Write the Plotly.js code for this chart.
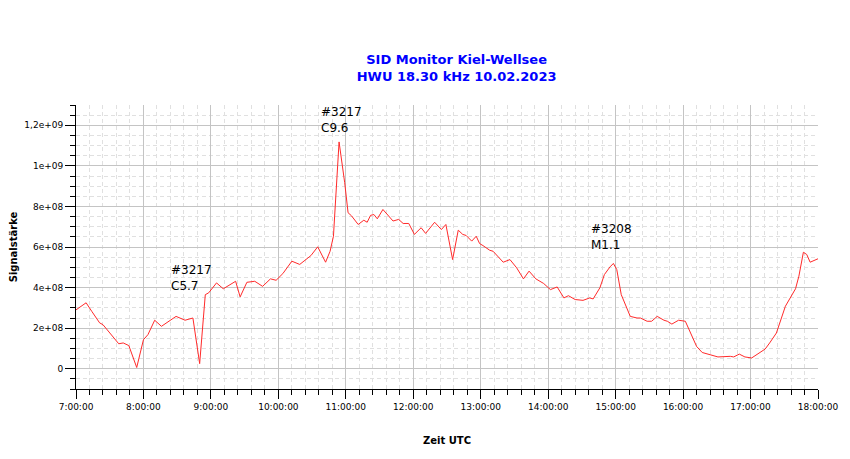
<!DOCTYPE html>
<html>
<head>
<meta charset="utf-8">
<script src="https://cdn.plot.ly/plotly-3.0.1.min.js"></script>
<style>html,body{margin:0;padding:0;background:#fff;}#chart{width:850px;height:459px;}</style>
</head>
<body>
<div id="chart"></div>
<script>
var day = "2023-02-10";
var times = ["07:00","07:09","07:14","07:21","07:24","07:38","07:42","07:47","07:54","08:00",
"08:04","08:10","08:16","08:29","08:37","08:44","08:50","08:55","08:58","09:05",
"09:11","09:22","09:26","09:32","09:39","09:46","09:53","09:58","10:04","10:12",
"10:19","10:29","10:35","10:42","10:46","10:49","10:54","10:59","11:02","11:05",
"11:11","11:16","11:19","11:22","11:25","11:28","11:33","11:42","11:47","11:51",
"11:56","12:01","12:07","12:11","12:19","12:25","12:29","12:35","12:40","12:44",
"12:47","12:52","12:56","12:59","13:02","13:08","13:11","13:20","13:26","13:32",
"13:38","13:43","13:49","13:56","14:02","14:08","14:14","14:18","14:24","14:31",
"14:37","14:40","14:46","14:50","14:55","14:58","15:01","15:05","15:13","15:19",
"15:22","15:28","15:32","15:37","15:43","15:46","15:50","15:56","16:02","16:08",
"16:12","16:17","16:24","16:31","16:42","16:45","16:50","16:55","17:01","17:07",
"17:13","17:17","17:23","17:31","17:40","17:43","17:47","17:50","17:53","18:00"];
var signal = [2.90e8,3.25e8,2.83e8,2.26e8,2.17e8,1.23e8,1.27e8,1.14e8,0.06e8,1.43e8,
1.68e8,2.39e8,2.09e8,2.58e8,2.39e8,2.50e8,0.25e8,3.65e8,3.74e8,4.23e8,
3.94e8,4.31e8,3.54e8,4.26e8,4.31e8,4.06e8,4.43e8,4.36e8,4.69e8,5.30e8,
5.14e8,5.58e8,6.01e8,5.25e8,5.79e8,6.53e8,11.18e8,9.17e8,7.69e8,7.54e8,
7.11e8,7.32e8,7.22e8,7.56e8,7.60e8,7.39e8,7.85e8,7.28e8,7.36e8,7.16e8,
7.16e8,6.62e8,6.95e8,6.67e8,7.22e8,6.86e8,7.11e8,5.38e8,6.83e8,6.62e8,
6.57e8,6.29e8,6.53e8,6.17e8,6.07e8,5.84e8,5.79e8,5.25e8,5.38e8,4.97e8,
4.43e8,4.81e8,4.43e8,4.20e8,3.90e8,4.03e8,3.49e8,3.60e8,3.41e8,3.37e8,
3.49e8,3.44e8,3.99e8,4.64e8,5.02e8,5.19e8,4.89e8,3.65e8,2.58e8,2.50e8,
2.50e8,2.34e8,2.34e8,2.58e8,2.39e8,2.34e8,2.20e8,2.39e8,2.34e8,1.60e8,
1.10e8,0.80e8,0.69e8,0.58e8,0.61e8,0.58e8,0.72e8,0.58e8,0.53e8,0.77e8,
0.97e8,1.27e8,1.76e8,3.08e8,3.94e8,4.56e8,5.74e8,5.63e8,5.25e8,5.42e8];

var yTickVals = [0, 2e8, 4e8, 6e8, 8e8, 1e9, 1.2e9];
var yTickText = ["0", "2e+08", "4e+08", "6e+08", "8e+08", "1e+09", "1,2e+09"];

var flareLabels = ["#3217<br>C5.7", "#3217<br>C9.6", "#3208<br>M1.1"];
var flareTimes = ["08:23", "10:36", "14:36"];
var flareY = [3.62e8, 11.42e8, 5.65e8];

var xs = times.map(function(t){ return day + " " + t; });

var annotations = flareLabels.map(function(txt, i){
  return {
    x: day + " " + flareTimes[i], y: flareY[i], xref: "x", yref: "y",
    text: txt, showarrow: false, xanchor: "left", yanchor: "bottom", align: "left",
    font: {family: "DejaVu Sans", size: 12, color: "#000"}
  };
});

var trace = {
  x: xs, y: signal, type: "scatter", mode: "lines",
  line: {color: "#ff2a2a", width: 1}, hoverinfo: "skip"
};

var layout = {
  width: 850, height: 459,
  margin: {l: 76, r: 32, t: 105, b: 70},
  paper_bgcolor: "#fff", plot_bgcolor: "#fff",
  showlegend: false,
  font: {family: "DejaVu Sans", size: 9, color: "#000"},
  title: {
    text: "SID Monitor Kiel-Wellsee<br>HWU 18.30 kHz 10.02.2023",
    font: {family: "DejaVu Sans", size: 13, color: "#0000ff", weight: "bold"},
    x: 0.5 + 11/850, xanchor: "center", xref: "paper",
    y: 1 - 64/459, yanchor: "top", yref: "container"
  },
  xaxis: {
    type: "date",
    range: [day + " 07:00", day + " 18:00"],
    dtick: 3600000, tick0: day + " 07:00",
    tickformat: "%-H:%M:%S",
    ticks: "outside", ticklen: 9, tickcolor: "#000", tickwidth: 1,
    showline: true, linecolor: "#000", linewidth: 1,
    showgrid: true, gridcolor: "#c4c4c4", gridwidth: 1,
    zeroline: false,
    tickfont: {family: "DejaVu Sans", size: 9, color: "#000"},
    minor: {dtick: 720000, ticks: "outside", ticklen: 5, tickcolor: "#000",
            showgrid: true, gridcolor: "#e0e0e0", griddash: "4px,3px", gridwidth: 1},
    title: {text: "Zeit UTC", font: {family: "DejaVu Sans", size: 10, color: "#000", weight: "bold"}, standoff: 26}
  },
  yaxis: {
    range: [-1e8, 1.3e9],
    tickvals: yTickVals, ticktext: yTickText,
    ticks: "outside", ticklen: 10, tickcolor: "#000", tickwidth: 1,
    showline: true, linecolor: "#000", linewidth: 1,
    showgrid: true, gridcolor: "#c4c4c4", gridwidth: 1,
    zeroline: false,
    tickfont: {family: "DejaVu Sans", size: 9, color: "#000"},
    minor: {dtick: 5e7, tick0: 0, ticks: "outside", ticklen: 5, tickcolor: "#000",
            showgrid: true, gridcolor: "#e0e0e0", griddash: "4px,3px", gridwidth: 1},
    title: {text: "Signalstärke", font: {family: "DejaVu Sans", size: 10, color: "#000", weight: "bold"}, standoff: 4}
  },
  annotations: annotations
};

Plotly.newPlot("chart", [trace], layout, {staticPlot: true, displayModeBar: false});
</script>
</body>
</html>
